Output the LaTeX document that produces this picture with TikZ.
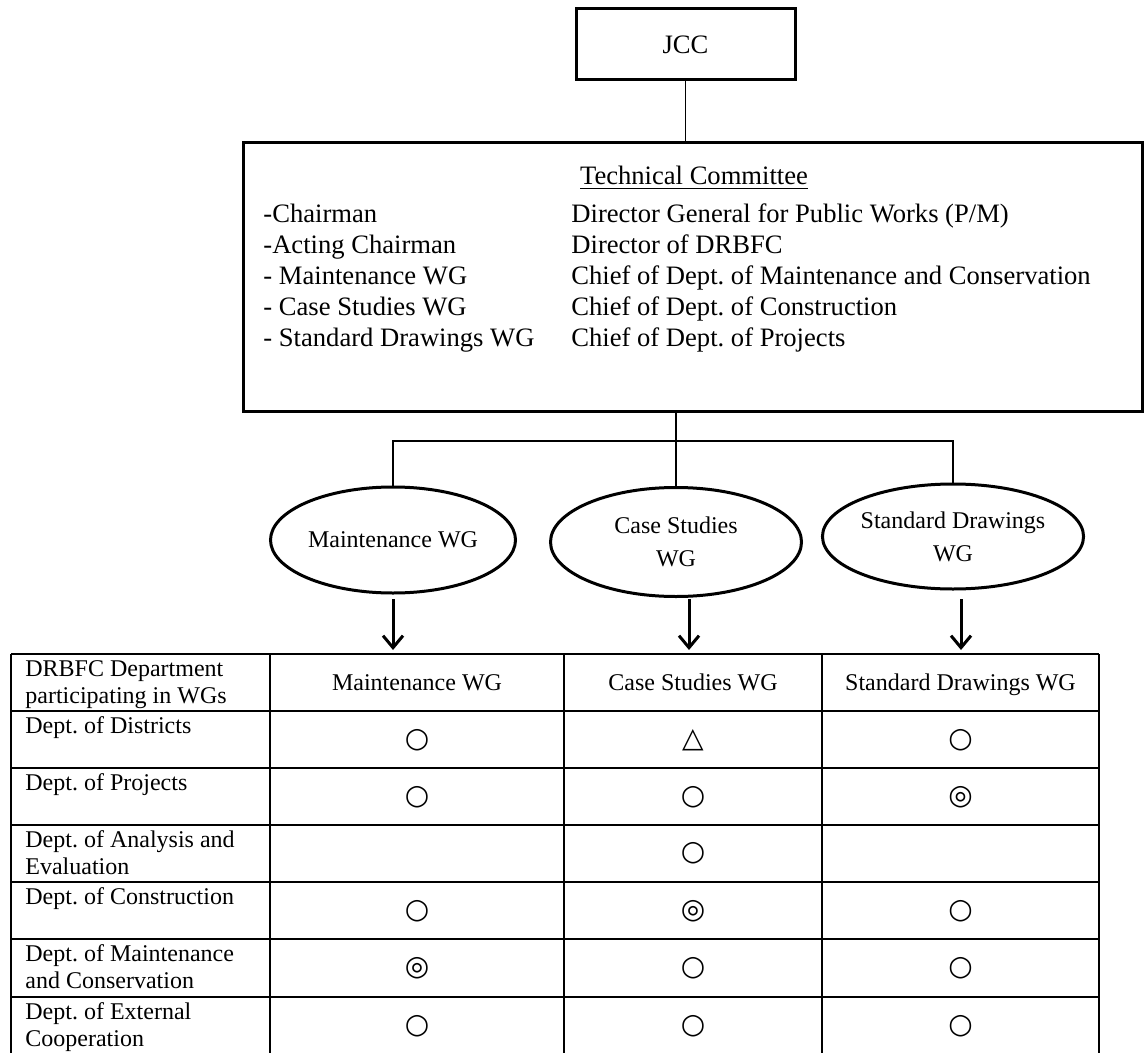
\documentclass[tikz,border=0pt]{standalone}
\usepackage{fontspec}
\setmainfont{Liberation Serif}
\newfontfamily\symfont{DejaVu Sans}
\usetikzlibrary{arrows.meta,shapes.geometric}
\frenchspacing
\begin{document}
\begin{tikzpicture}[x=0.5pt,y=-0.5pt,
  thickbox/.style={draw, line width=1.5pt, inner sep=0pt},
  wg/.style={draw, ellipse, line width=1.5pt, inner sep=0pt, align=center, font=\fontsize{12}{16.5}\selectfont},
  conn/.style={line width=0.75pt},
  arr/.style={line width=1.5pt, -{Straight Barb[length=6pt,width=10pt]}},
  gridline/.style={line width=0.8pt},
  tctext/.style={anchor=base west, inner sep=0pt, font=\fontsize{13.3}{16}\selectfont},
  cell/.style={anchor=base west, inner sep=0pt, font=\fontsize{12}{14}\selectfont},
  head/.style={anchor=base, inner sep=0pt, font=\fontsize{12}{14}\selectfont},
  symb/.style={inner sep=0pt, font=\symfont\fontsize{14}{14}\selectfont}
]
\useasboundingbox (0,0) rectangle (1144,1053);

% JCC and Technical Committee
\node[thickbox, minimum width=109.5pt, minimum height=35.5pt, font=\fontsize{13.3}{16}\selectfont] (jcc) at (685.5,44.5) {JCC};
\node[thickbox, minimum width=449.5pt, minimum height=134pt] (tc) at (692.5,277) {};
\draw[conn] (jcc.south) -- (jcc.south |- tc.north);

\node[tctext, anchor=base] (tct) at (694,185) {\underline{Technical Committee}};
\foreach \yy/\l/\r [count=\i] in {
  223/{-Chairman}/{Director General for Public Works (P/M)},
  254/{-Acting Chairman}/{Director of DRBFC},
  285/{- Maintenance WG}/{Chief of Dept. of Maintenance and Conservation},
  315/{- Case Studies WG}/{Chief of Dept. of Construction},
  346/{- Standard Drawings WG}/{Chief of Dept. of Projects}}{
  \node[tctext] (tl\i) at (263,\yy) {\l};
  \node[tctext] (tr\i) at (571,\yy) {\r};
}

% Working groups
\node[wg, minimum width=122.5pt, minimum height=53pt] (mw) at (393,540) {Maintenance WG};
\node[wg, minimum width=125.5pt, minimum height=54.5pt] (cs) at (676,542) {Case Studies\\WG};
\node[wg, minimum width=128.5pt, minimum height=52.5pt] (sd) at (953,536.5) {Standard Drawings\\WG};

\coordinate (bus) at (0,441);
\draw[conn] (cs.north) -- (cs.north |- tc.south);
\draw[conn] (mw.north) -- (mw.north |- bus) -- (sd.north |- bus) -- (sd.north);

% arrows
\coordinate (a1s) at (393,599); \coordinate (a1e) at (393,650);
\coordinate (a2s) at (689,599); \coordinate (a2e) at (689,650);
\coordinate (a3s) at (961,599); \coordinate (a3e) at (961,650);
\draw[arr] (a1s) -- (a1e);
\draw[arr] (a2s) -- (a2e);
\draw[arr] (a3s) -- (a3e);

% table
\foreach \yy in {654,711,768,825,882,939,997} \draw[gridline] (11,\yy) -- (1099,\yy);
\foreach \xx in {11,270,564,822,1099} \draw[gridline] (\xx,654) -- (\xx,1053);

\node[head] (h1) at (417,690) {Maintenance WG};
\node[head] (h2) at (693,690) {Case Studies WG};
\node[head] (h3) at (960.5,690) {Standard Drawings WG};

\foreach \tt/\la/\lb [count=\i] in {
  654/{DRBFC Department}/{participating in WGs},
  711/{Dept. of Districts}/{},
  768/{Dept. of Projects}/{},
  825/{Dept. of Analysis and}/{Evaluation},
  882/{Dept. of Construction}/{},
  939/{Dept. of Maintenance}/{and Conservation},
  997/{Dept. of External}/{Cooperation}}{
  \node[cell] (ra\i) at (25,\tt+22.5) {\la};
  \node[cell] (rb\i) at (25,\tt+49.5) {\lb};
}

\foreach \xx/\yy/\s [count=\i] in {
  417/740/○, 693/740/△, 960.5/740/○,
  417/797/○, 693/797/○, 960.5/797/◎,
  693/853/○,
  417/911/○, 693/911/◎, 960.5/911/○,
  417/968/◎, 693/968/○, 960.5/968/○,
  417/1026/○, 693/1026/○, 960.5/1026/○}{
  \node[symb] (m\i) at (\xx,\yy) {\s};
}
\end{tikzpicture}
\end{document}
